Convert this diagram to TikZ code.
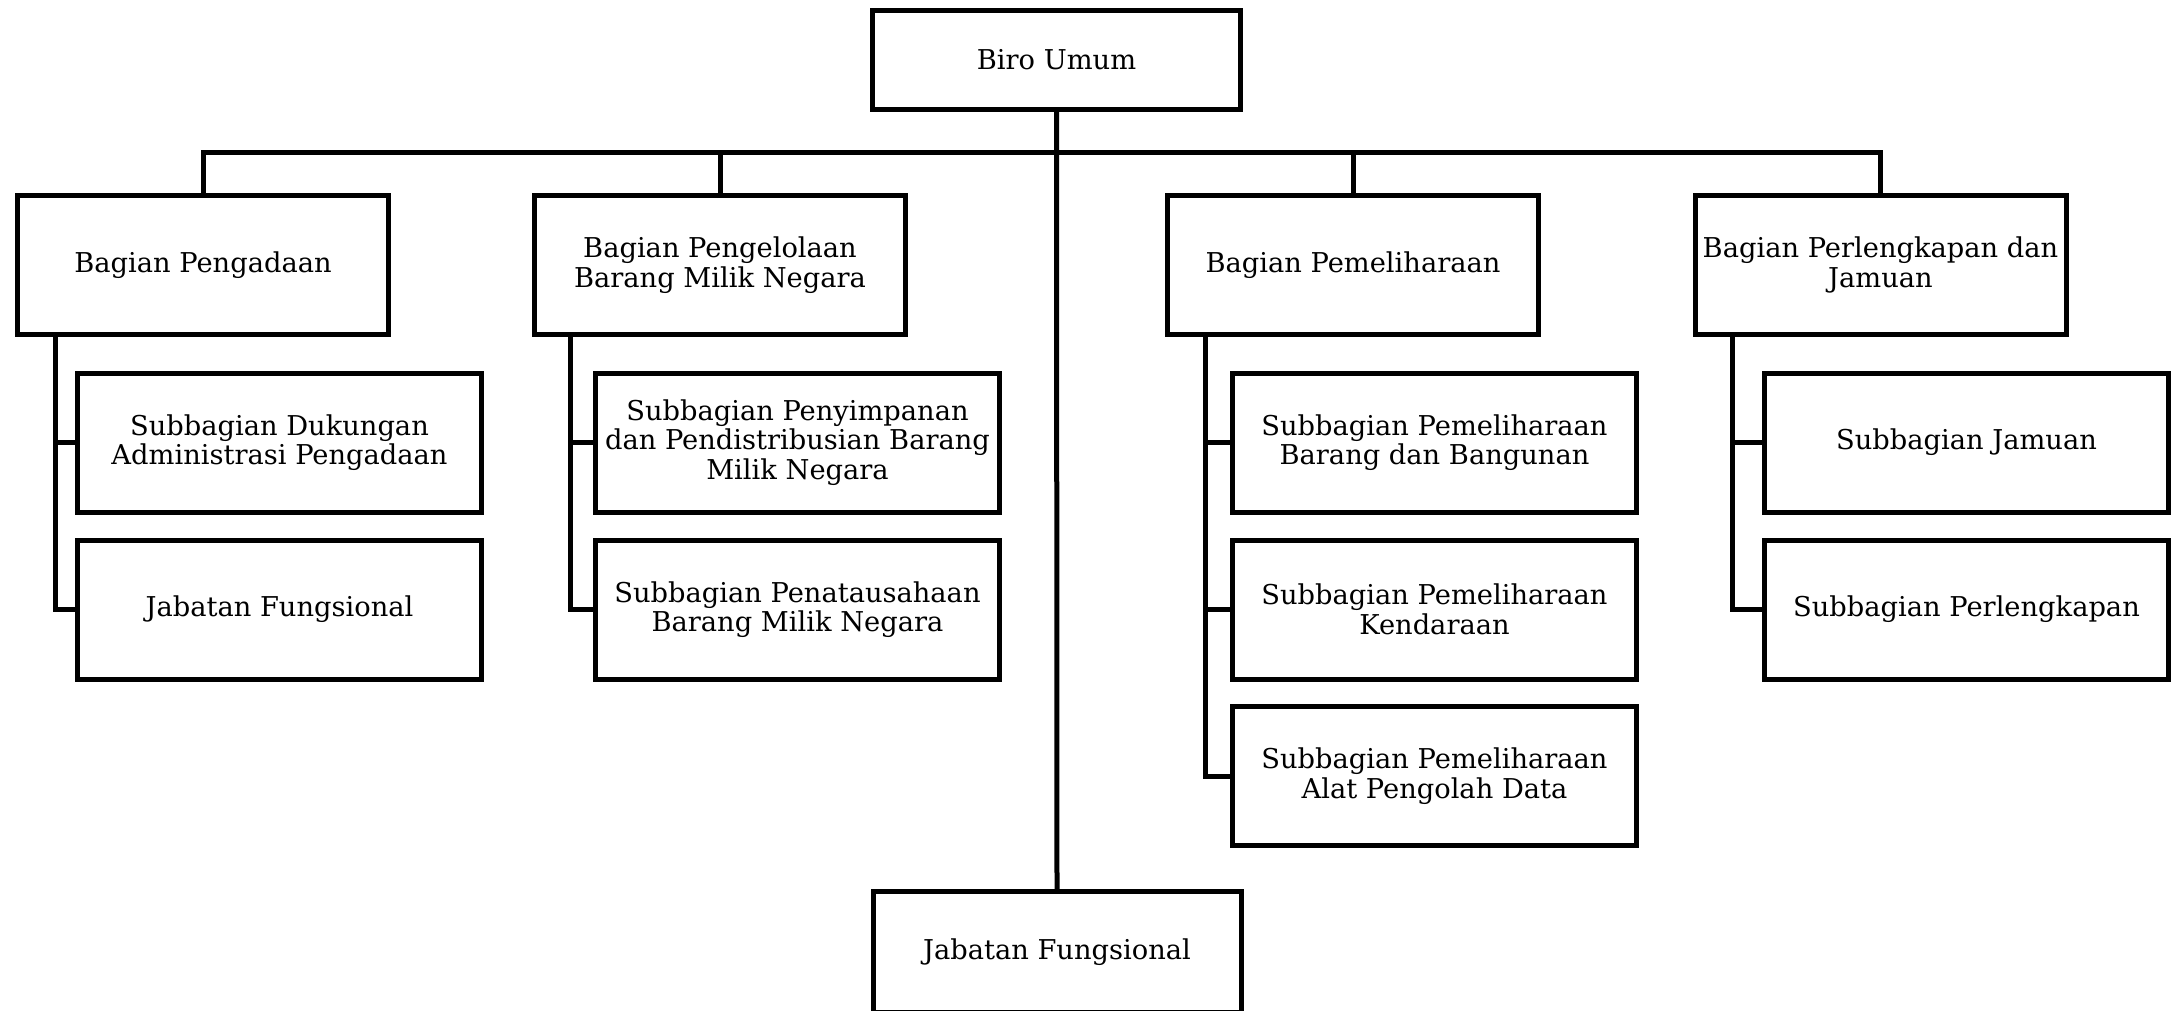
\documentclass[tikz,border=0pt]{standalone}
\usepackage{fontspec}
\setmainfont{DejaVu Serif}
\begin{document}
\begin{tikzpicture}[x=1pt,y=-1pt,
  box/.style={draw, line width=5pt, rectangle, inner sep=0pt, outer sep=0pt, align=center,
    font=\fontsize{27.3}{29.5}\selectfont},
  topbox/.style={box, minimum width=368pt, minimum height=99pt},
  lvlbox/.style={box, minimum width=371pt, minimum height=139pt},
  subbox/.style={box, minimum width=404pt, minimum height=139pt},
  conn/.style={line width=5pt, line join=miter}]
\useasboundingbox (0,0) rectangle (2177,1011);
\node[topbox] (top) at (1056.5,60) {Biro Umum};
\node[lvlbox] (b1) at (203,265) {Bagian Pengadaan};
\node[lvlbox] (b2) at (720,265) {Bagian Pengelolaan\\Barang Milik Negara};
\node[lvlbox] (b3) at (1353,265) {Bagian Pemeliharaan};
\node[lvlbox] (b4) at (1880.5,265) {Bagian Perlengkapan dan\\Jamuan};
\node[subbox] (s11) at (279.5,442.5) {Subbagian Dukungan\\Administrasi Pengadaan};
\node[subbox] (s12) at (279.5,609.5) {Jabatan Fungsional};
\node[subbox] (s21) at (797.5,442.5) {Subbagian Penyimpanan\\dan Pendistribusian Barang\\Milik Negara};
\node[subbox] (s22) at (797.5,609.5) {Subbagian Penatausahaan\\Barang Milik Negara};
\node[subbox] (s31) at (1434.5,442.5) {Subbagian Pemeliharaan\\Barang dan Bangunan};
\node[subbox] (s32) at (1434.5,609.5) {Subbagian Pemeliharaan\\Kendaraan};
\node[subbox] (s33) at (1434.5,776) {Subbagian Pemeliharaan\\Alat Pengolah Data};
\node[subbox] (s41) at (1966.5,442.5) {Subbagian Jamuan};
\node[subbox] (s42) at (1966.5,609.5) {Subbagian Perlengkapan};
\node[topbox, minimum height=121pt] (jf) at (1057,952) {Jabatan Fungsional};
% bus
\coordinate (bus) at (1056.5,153);
\draw[conn] (top.south) -- (jf.north);
\draw[conn] (b1.north) -- (b1.north |- bus) -- (b4.north |- bus) -- (b4.north);
\draw[conn] (b2.north) -- (b2.north |- bus);
\draw[conn] (b3.north) -- (b3.north |- bus);
% side branches
\coordinate (v1) at (55,0);
\coordinate (v2) at (570,0);
\coordinate (v3) at (1205,0);
\coordinate (v4) at (1732,0);
\draw[conn] (b1.south -| v1) |- (s12.west);
\draw[conn] (s11.west -| v1) -- (s11.west);
\draw[conn] (b2.south -| v2) |- (s22.west);
\draw[conn] (s21.west -| v2) -- (s21.west);
\draw[conn] (b3.south -| v3) |- (s33.west);
\draw[conn] (s31.west -| v3) -- (s31.west);
\draw[conn] (s32.west -| v3) -- (s32.west);
\draw[conn] (b4.south -| v4) |- (s42.west);
\draw[conn] (s41.west -| v4) -- (s41.west);
\end{tikzpicture}
\end{document}
